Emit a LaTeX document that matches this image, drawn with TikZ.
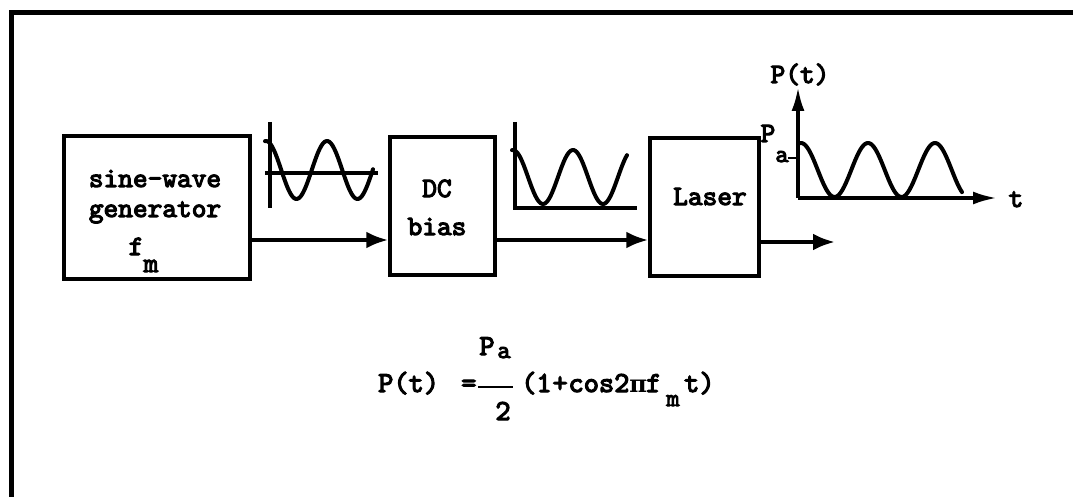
\documentclass[tikz,border=0pt]{standalone}
\usepackage{fontspec}
\newfontfamily\tw{lmmono10-regular}[Extension=.otf, FakeBold=4]
\newfontfamily\pifont{DejaVu Serif}
\usetikzlibrary{arrows.meta}
\begin{document}
\begin{tikzpicture}[x=1pt,y=-1pt,
  txt/.style={font=\tw\fontsize{28}{31}\selectfont, inner sep=0pt, anchor=base},
  ftxt/.style={font=\tw\fontsize{29}{32}\selectfont, inner sep=0pt, anchor=base west},
  stxt/.style={font=\tw\fontsize{25}{28}\selectfont, inner sep=0pt, anchor=base},
  blk/.style={draw, line width=3.5pt, inner sep=0pt},
  arr/.style={line width=4pt, -{Latex[length=22pt,width=17pt]}},
  axarr/.style={line width=3.5pt, -{Latex[length=24pt,width=13pt]}},
  wave/.style={line width=4pt, line cap=round, line join=round},
  axisline/.style={line width=3.5pt},
]
\useasboundingbox (0,0) rectangle (1073,497);
\fill[white] (0,0) rectangle (1073,497);
\clip (0,0) rectangle (1073,497);
% outer frame
\draw[line width=5pt] (1100,13) -- (11,13) -- (11,520);

% blocks
\node[blk, minimum width=186pt, minimum height=143pt] (gen) at (157,207.5) {};
\node[blk, minimum width=105pt, minimum height=138pt] (dc) at (442.5,206) {};
\node[blk, minimum width=109pt, minimum height=138pt] (laser) at (704.5,207) {};

% block texts
\node[txt] (t1) at (155,187) {sine-wave};
\node[txt] (t2) at (155,217) {generator};
\node[txt] (t3) at (136,255) {f};
\node[txt] (t4) at (151,272) {m};
\node[txt] (t5) at (437,197) {DC};
\node[txt] (t6) at (437,235) {bias};
\node[txt] (t7) at (710,205) {Laser};

% connectors
\coordinate (row) at (0,240);
\coordinate (out) at (835,242);
\draw[arr] (gen.east |- row) -- (dc.west |- row);
\draw[arr] (dc.east |- row) -- (laser.west |- row);
\draw[arr] (laser.east |- out) -- (out);

% waveform 1 : sine
\draw[axisline] (270,122) -- (270,208);
\draw[axisline] (265,173) -- (378,173);
\draw[wave] plot[domain=265:373, samples=90] (\x, {170 - 29*cos((\x-266)*(360/61))});

% waveform 2 : biased sine
\draw[axisline] (515,122) -- (515,208) -- (637,208);
\draw[wave] plot[domain=512:627, samples=90] (\x, {204 - 27*(1+cos((\x-513)*6))});

% waveform 3 : laser output
\draw[axarr] (798,198) -- (798,87);
\draw[axarr] (798,198) -- (997,198);
\draw[wave] plot[domain=798:962, samples=140] (\x, {197 - 27*(1+cos((\x-801)*(360/67)))});
\draw[line width=1.5pt] (788,158) -- (798,158);
\node[txt] (pt) at (800,83) {P(t)};
\node[txt] (pp) at (768,142) {P};
\node[stxt] (pa) at (782,162) {a};
\node[txt] (tt) at (1016,207) {t};

% formula
\node[ftxt] (f1) at (378,392) {P(t)};
\node[ftxt] (f2) at (461,392) {=};
\node[ftxt, anchor=base] (f3) at (487,355) {P};
\node[stxt] (f4) at (504,358) {a};
\draw[line width=2.2pt] (478,387) -- (513,387);
\node[ftxt, anchor=base] (f5) at (503,420) {2};
\node[ftxt] (f6) at (521,392) {(1\hspace{-4pt}\,+\hspace{-4pt}\,cos2{\pifont\bfseries\fontsize{24}{28}\selectfont π}\hspace{-1pt}f};
\node[stxt] (f7) at (673,406) {m};
\node[ftxt] (f8) at (684,392) {t)};
\end{tikzpicture}
\end{document}
